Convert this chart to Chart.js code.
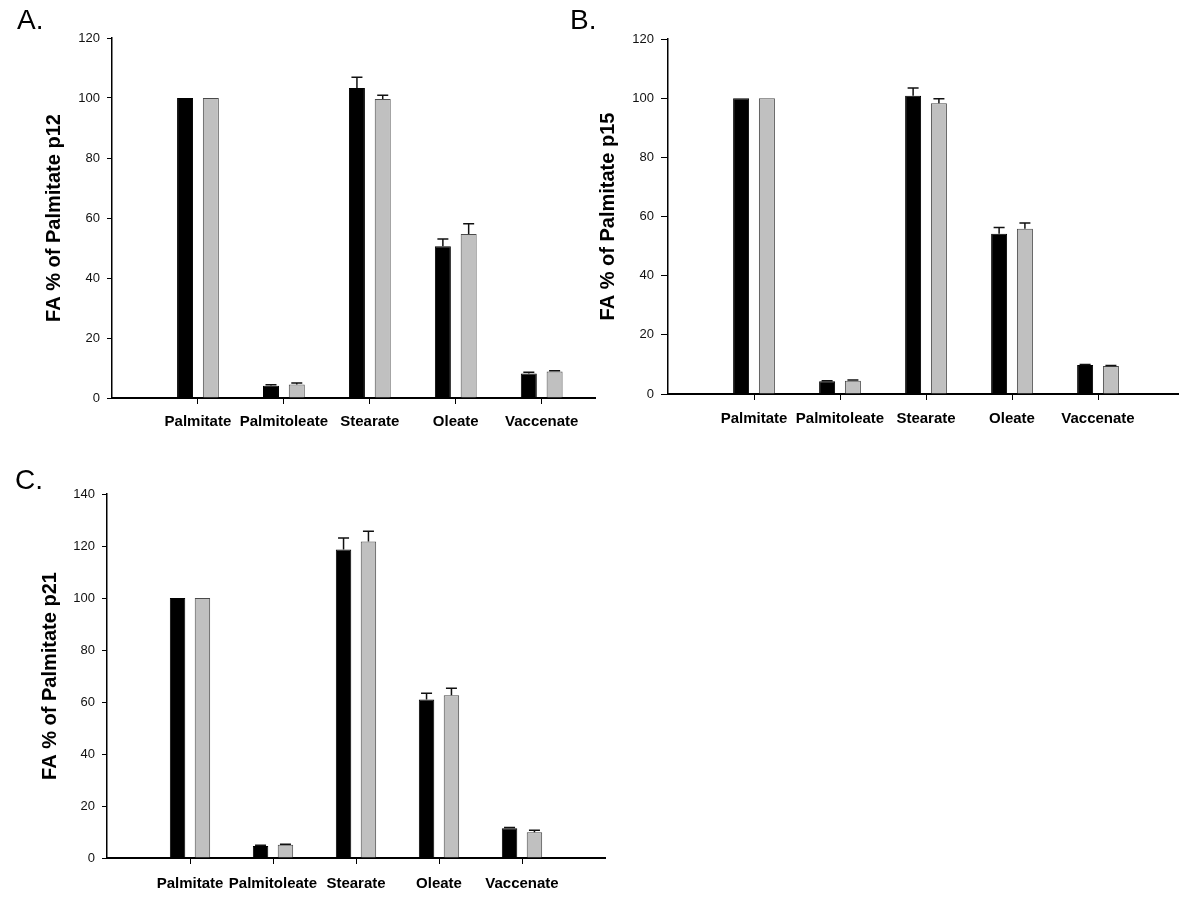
<!DOCTYPE html>
<html>
<head>
<meta charset="utf-8">
<script src="https://cdn.jsdelivr.net/npm/chart.js@4.4.1/dist/chart.umd.min.js"></script>
<style>
  body { margin: 0; background: #fff; }
  #wrap { position: relative; width: 1200px; height: 908px; overflow: hidden; font-family: "Liberation Sans", Arial, sans-serif; }
  canvas { position: absolute; }
  .tag { position: absolute; font-size: 28px; line-height: 28px; color: #000; }
</style>
</head>
<body>
<div id="wrap">
  <canvas id="chartA" width="600" height="450" style="left:0;top:0"></canvas>
  <canvas id="chartB" width="640" height="450" style="left:560px;top:0"></canvas>
  <canvas id="chartC" width="620" height="448" style="left:0;top:460px"></canvas>
  <div class="tag" style="left:17px;top:6px">A.</div>
  <div class="tag" style="left:570px;top:6px">B.</div>
  <div class="tag" style="left:15px;top:466px">C.</div>
</div>
<script>
'use strict';

// categories on the x axis
const categories = ['Palmitate', 'Palmitoleate', 'Stearate', 'Oleate', 'Vaccenate'];

// p12
const p12Black = [100, 4.1, 103.3, 50.6, 8.2];
const p12BlackErr = [0, 0.3, 3.6, 2.4, 0.4];
const p12Gray = [100, 4.5, 99.7, 54.7, 8.8];
const p12GrayErr = [0, 0.5, 1.2, 3.4, 0.3];

// p15
const p15Black = [100, 4.3, 100.8, 54.2, 9.8];
const p15BlackErr = [0, 0.2, 2.6, 2.1, 0.2];
const p15Gray = [100, 4.5, 98.3, 55.9, 9.5];
const p15GrayErr = [0, 0.2, 1.5, 1.9, 0.15];

// p21
const p21Black = [100, 4.6, 118.7, 61.0, 11.4];
const p21BlackErr = [0, 0.3, 4.4, 2.4, 0.3];
const p21Gray = [100, 5.1, 121.7, 62.6, 9.9];
const p21GrayErr = [0, 0.2, 4.0, 2.7, 0.8];

// y axis ranges
const yMaxA = 120, yMaxB = 120, yMaxC = 140;
const yStep = 20;

const FONT = '"Liberation Sans", Arial, sans-serif';

// draws the upward error bars on top of each bar
const errorBars = {
  id: 'errorBars',
  afterDatasetsDraw(chart) {
    const ctx = chart.ctx;
    const yScale = chart.scales.y;
    chart.data.datasets.forEach((ds, di) => {
      const meta = chart.getDatasetMeta(di);
      meta.data.forEach((bar, i) => {
        const e = ds.errors[i];
        if (!e) return;
        const top = yScale.getPixelForValue(ds.data[i].y + e);
        ctx.save();
        ctx.strokeStyle = '#111';
        ctx.lineWidth = 1.5;
        ctx.beginPath();
        ctx.moveTo(bar.x, bar.y);
        ctx.lineTo(bar.x, top);
        ctx.moveTo(bar.x - 5.5, top);
        ctx.lineTo(bar.x + 5.5, top);
        ctx.stroke();
        ctx.restore();
      });
    });
  }
};

const toPoints = vals => vals.map((v, i) => ({ x: i + 1, y: v }));

const makePanel = function(id, p) {
  new Chart(document.getElementById(id), {
    type: 'bar',
    data: {
      datasets: [{
        data: toPoints(p.black),
        errors: p.blackErr,
        backgroundColor: '#000',
        borderColor: '#000',
        borderWidth: 1
      }, {
        data: toPoints(p.gray),
        errors: p.grayErr,
        backgroundColor: '#c0c0c0',
        borderColor: '#4a4a4a',
        borderWidth: 1
      }]
    },
    options: {
      responsive: false,
      animation: false,
      devicePixelRatio: 1,
      categoryPercentage: 0.6,
      barPercentage: 0.62,
      layout: { padding: { top: p.top, right: p.right, left: 0, bottom: 0 } },
      plugins: { legend: { display: false }, tooltip: { enabled: false } },
      scales: {
        x: {
          type: 'linear',
          min: 0,
          max: p.xMax,
          offset: false,
          afterFit: s => { s.height = p.xHeight; },
          afterBuildTicks: s => { s.ticks = categories.map((c, i) => ({ value: i + 1 })); },
          grid: { display: true, offset: false, drawOnChartArea: false, drawTicks: true, tickLength: 6, color: '#000', lineWidth: 1 },
          border: { display: true, color: '#000', width: 2 },
          ticks: {
            autoSkip: false,
            maxRotation: 0,
            padding: p.labelPad,
            color: '#000',
            font: { family: FONT, size: 15, weight: 'bold' },
            callback: v => categories[v - 1] || ''
          }
        },
        y: {
          min: 0,
          max: p.yMax,
          afterFit: s => { s.width = p.yWidth; },
          grid: { display: true, drawOnChartArea: false, drawTicks: true, tickLength: p.tickLen, color: '#000', lineWidth: 1 },
          border: { display: true, color: '#000', width: 1.5 },
          ticks: { stepSize: yStep, padding: 7, color: '#111', font: { family: FONT, size: 13 } },
          title: {
            display: true,
            text: p.title,
            color: '#000',
            padding: { top: p.titlePad, bottom: 0 },
            font: { family: FONT, size: 20, weight: 'bold' }
          }
        }
      }
    },
    plugins: [errorBars]
  });
};

makePanel('chartA', {
  black: p12Black, blackErr: p12BlackErr, gray: p12Gray, grayErr: p12GrayErr,
  title: 'FA % of Palmitate p12', yMax: yMaxA, xMax: 5.62,
  top: 38, right: 5, yWidth: 112, xHeight: 52, titlePad: 42, tickLen: 5, labelPad: 9
});

makePanel('chartB', {
  black: p15Black, blackErr: p15BlackErr, gray: p15Gray, grayErr: p15GrayErr,
  title: 'FA % of Palmitate p15', yMax: yMaxB, xMax: 5.93,
  top: 39, right: 22, yWidth: 108, xHeight: 56, titlePad: 36, tickLen: 7, labelPad: 10
});

makePanel('chartC', {
  black: p21Black, blackErr: p21BlackErr, gray: p21Gray, grayErr: p21GrayErr,
  title: 'FA % of Palmitate p21', yMax: yMaxC, xMax: 6.0,
  top: 34, right: 15, yWidth: 107, xHeight: 50, titlePad: 38, tickLen: 5, labelPad: 11
});
</script>
</body>
</html>
